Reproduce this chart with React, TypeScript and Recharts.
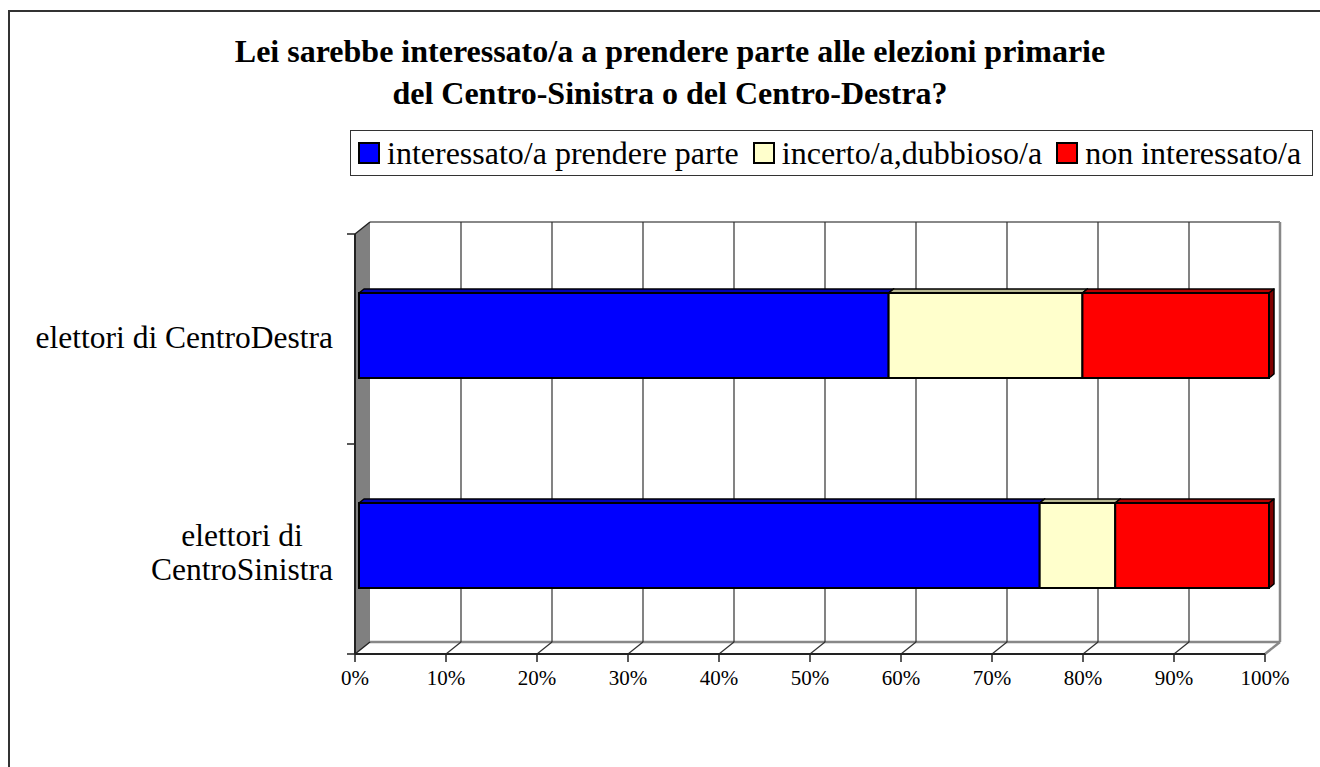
import { Bar, BarChart, Legend, ReferenceArea, ReferenceLine, XAxis, YAxis } from "recharts";

const categories = ["elettori di CentroDestra", "elettori di CentroSinistra"];
const interessato = [58.2, 74.8];
const incerto = [21.3, 8.3];
const nonInteressato = [20.5, 16.9];
const percentTicks = [0, 10, 20, 30, 40, 50, 60, 70, 80, 90, 100];

const seriesNames = ["interessato/a prendere parte", "incerto/a,dubbioso/a", "non interessato/a"];
const seriesColors = ["#0000FF", "#FFFFCC", "#FF0000"];

const title = ["Lei sarebbe interessato/a a prendere parte alle elezioni primarie", "del Centro-Sinistra o del Centro-Destra?"];

const data = categories.map((label, i) => ({
  label,
  interessato: interessato[i],
  incerto: incerto[i],
  nonInteressato: nonInteressato[i],
}));

const SERIF = '"Liberation Serif", "Times New Roman", serif';
// depth of the 3d walls and of the bars
const DX = 15;
const DY = -12;
const BAR_OFF = 4;
const BAR_DX = 5;
const BAR_DY = -4;

function shade(hex: string, k: number) {
  const n = parseInt(hex.slice(1), 16);
  const c = [(n >> 16) & 255, (n >> 8) & 255, n & 255].map((v) => Math.round(v * k));
  return `rgb(${c[0]},${c[1]},${c[2]})`;
}

let ctx: CanvasRenderingContext2D | null = null;
function textWidth(text: string, font: string) {
  if (!ctx) ctx = document.createElement("canvas").getContext("2d");
  if (!ctx) return text.length * 14;
  ctx.font = font;
  return ctx.measureText(text).width;
}

function Bar3D(props: any) {
  const { x, y, width, height, fill } = props;
  if (!width || width <= 0) return null;
  const fx = x + BAR_OFF;
  const fy = y - BAR_OFF;
  const r = fx + width;
  return (
    <g>
      <polygon
        points={`${fx},${fy} ${fx + BAR_DX},${fy + BAR_DY} ${r + BAR_DX},${fy + BAR_DY} ${r},${fy}`}
        fill={shade(fill, 0.72)}
        stroke="#000"
        strokeWidth={1.5}
        strokeLinejoin="round"
      />
      <polygon
        points={`${r},${fy} ${r + BAR_DX},${fy + BAR_DY} ${r + BAR_DX},${fy + height + BAR_DY} ${r},${fy + height}`}
        fill={shade(fill, 0.5)}
        stroke="#000"
        strokeWidth={1.5}
        strokeLinejoin="round"
      />
      <rect x={fx} y={fy} width={width} height={height} fill={fill} stroke="#000" strokeWidth={2} />
    </g>
  );
}

function Walls(props: any) {
  const { x, y, width, height } = props;
  const l = x;
  const t = y;
  const r = x + width;
  const b = y + height;
  const n = categories.length;
  return (
    <g>
      <rect x={l + DX} y={t + DY} width={width} height={height} fill="#fff" />
      <polygon points={`${l},${t} ${l + DX},${t + DY} ${l + DX},${b + DY} ${l},${b}`} fill="#808080" />
      <polygon points={`${l},${b} ${l + DX},${b + DY} ${r + DX},${b + DY} ${r},${b}`} fill="#fff" />
      <line x1={l + DX} y1={t + DY} x2={r + DX} y2={t + DY} stroke="#888" strokeWidth={2} />
      <line x1={r + DX} y1={t + DY} x2={r + DX} y2={b + DY} stroke="#888" strokeWidth={2.5} />
      <line x1={l + DX} y1={b + DY} x2={r + DX} y2={b + DY} stroke="#888" strokeWidth={2.5} />
      <line x1={r} y1={b} x2={r + DX} y2={b + DY} stroke="#888" strokeWidth={2.5} />
      <line x1={l} y1={t} x2={l + DX} y2={t + DY} stroke="#222" strokeWidth={1.5} />
      <line x1={l} y1={b} x2={l + DX} y2={b + DY} stroke="#222" strokeWidth={1.5} />
      {Array.from({ length: n + 1 }, (_, i) => (
        <line key={i} x1={l - 8} y1={t + (i * height) / n} x2={l} y2={t + (i * height) / n} stroke="#222" strokeWidth={1.5} />
      ))}
    </g>
  );
}

function GridLine3D(props: any) {
  const { x1, y1, y2 } = props;
  const top = Math.min(y1, y2);
  const bottom = Math.max(y1, y2);
  return (
    <g>
      <line x1={x1 + DX} y1={top + DY} x2={x1 + DX} y2={bottom + DY} stroke="#303030" strokeWidth={1.2} />
      <line x1={x1} y1={bottom} x2={x1 + DX} y2={bottom + DY} stroke="#303030" strokeWidth={1.2} />
    </g>
  );
}

function CategoryTick(props: any) {
  const { x, y, payload } = props;
  const size = 31.5;
  const font = `${size}px ${SERIF}`;
  const words = String(payload.value).split(" ");
  const lines: string[] = [];
  let cur = "";
  for (const w of words) {
    const next = cur ? `${cur} ${w}` : w;
    if (cur && textWidth(next, font) > 305) {
      lines.push(cur);
      cur = w;
    } else cur = next;
  }
  if (cur) lines.push(cur);
  const widest = Math.max(...lines.map((s) => textWidth(s, font)));
  const lh = 34;
  const y0 = y - ((lines.length - 1) * lh) / 2 + (lines.length - 1) * 5;
  return (
    <text x={x - widest / 2} y={y0} textAnchor="middle" fontFamily={SERIF} fontSize={size} fill="#000">
      {lines.map((s, i) => (
        <tspan key={i} x={x - widest / 2} y={y0 + i * lh} dy="0.3em">
          {s}
        </tspan>
      ))}
    </text>
  );
}

function LegendBox({ payload }: any) {
  const items = [...(payload ?? [])].sort(
    (a: any, b: any) => seriesNames.indexOf(a.value) - seriesNames.indexOf(b.value),
  );
  return (
    <div
      style={{
        boxSizing: "border-box",
        width: 963,
        height: 46,
        border: "1px solid #333",
        background: "#fff",
        display: "flex",
        alignItems: "center",
        paddingLeft: 7,
        fontFamily: SERIF,
        fontSize: 32,
        whiteSpace: "nowrap",
      }}
    >
      {items.map((item: any) => (
        <span key={item.value} style={{ display: "flex", alignItems: "center", marginRight: 14 }}>
          <span
            style={{
              display: "inline-block",
              boxSizing: "border-box",
              width: 22,
              height: 22,
              background: item.color,
              border: "2px solid #000",
              marginRight: 7,
            }}
          />
          {item.value}
        </span>
      ))}
    </div>
  );
}

export default function App() {
  return (
    <div style={{ position: "fixed", left: 0, top: 0, width: 1320, height: 767, overflow: "hidden", background: "#fff" }}>
      <div
        style={{
          position: "absolute",
          left: 8,
          top: 10,
          width: 1340,
          height: 800,
          border: "2px solid #333",
        }}
      />
      <div
        style={{
          position: "absolute",
          left: 0,
          top: 30,
          width: 1340,
          textAlign: "center",
          fontFamily: SERIF,
          fontWeight: "bold",
          fontSize: 32,
          lineHeight: "42px",
        }}
      >
        {title.map((t) => (
          <div key={t}>{t}</div>
        ))}
      </div>
      <div style={{ position: "absolute", left: 0, top: 0 }}>
        <BarChart
          width={1320}
          height={767}
          data={data}
          layout="vertical"
          margin={{ top: 234, right: 55, bottom: 73, left: 0 }}
          barSize={85}
        >
          <ReferenceArea x1={0} x2={100} shape={(p: any) => <Walls {...p} />} ifOverflow="visible" zIndex={-20} />
          {percentTicks.slice(1, -1).map((t) => (
            <ReferenceLine key={t} x={t} shape={(p: any) => <GridLine3D {...p} />} ifOverflow="visible" zIndex={-10} />
          ))}
          <XAxis
            type="number"
            domain={[0, 100]}
            ticks={percentTicks}
            tickFormatter={(v: number) => `${v}%`}
            height={40}
            tickSize={8}
            tickMargin={8}
            stroke="#222"
            axisLine={{ stroke: "#222", strokeWidth: 2 }}
            tickLine={{ stroke: "#222", strokeWidth: 1.5 }}
            tick={{ fill: "#000", fontFamily: SERIF, fontSize: 21 }}
          />
          <YAxis
            type="category"
            dataKey="label"
            width={355}
            tickLine={false}
            tickSize={8}
            tickMargin={14}
            axisLine={{ stroke: "#222", strokeWidth: 2 }}
            tick={(p: any) => <CategoryTick {...p} />}
          />
          <Legend
            layout="horizontal"
            verticalAlign="middle"
            align="center"
            itemSorter={null}
            wrapperStyle={{ position: "absolute", left: 350, top: 130, width: 963, height: 46 }}
            content={(p: any) => <LegendBox payload={p.payload} />}
          />
          <Bar dataKey="interessato" name={seriesNames[0]} stackId="s" fill={seriesColors[0]} shape={(p: any) => <Bar3D {...p} />} isAnimationActive={false} />
          <Bar dataKey="incerto" name={seriesNames[1]} stackId="s" fill={seriesColors[1]} shape={(p: any) => <Bar3D {...p} />} isAnimationActive={false} />
          <Bar dataKey="nonInteressato" name={seriesNames[2]} stackId="s" fill={seriesColors[2]} shape={(p: any) => <Bar3D {...p} />} isAnimationActive={false} />
        </BarChart>
      </div>
    </div>
  );
}
